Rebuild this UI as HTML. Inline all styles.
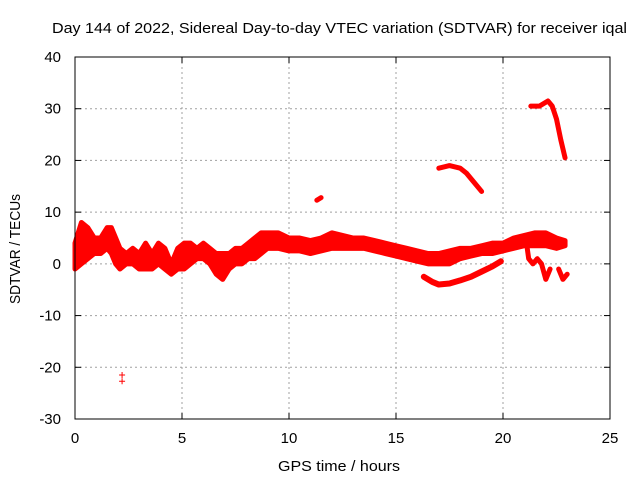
<!DOCTYPE html>
<html><head><meta charset="utf-8"><style>
body{margin:0;background:#fff;}
svg{display:block;font-family:"Liberation Sans",sans-serif;}
</style></head><body>
<svg id="chart" width="640" height="480" xmlns="http://www.w3.org/2000/svg">
<rect width="640" height="480" fill="#fff"/>
<text x="52" y="33" font-size="15" textLength="575" lengthAdjust="spacingAndGlyphs">Day 144 of 2022, Sidereal Day-to-day VTEC variation (SDTVAR) for receiver iqal</text>
<text x="278" y="471" font-size="15" textLength="122" lengthAdjust="spacingAndGlyphs">GPS time / hours</text>
<text transform="translate(20,304) rotate(-90)" font-size="15" textLength="110" lengthAdjust="spacingAndGlyphs">SDTVAR / TECUs</text>
<g id="grid"></g><g id="ticks"></g><g id="marks"></g>
<rect x="75" y="57" width="535" height="362" fill="none" stroke="#000" stroke-width="1"/>
</svg>
<script>
const xTicks=[0,5,10,15,20,25];
const yTicks=[-30,-20,-10,0,10,20,30,40];
const mainHours=[0,0.3,0.6,0.9,1.2,1.5,1.7,1.9,2.1,2.4,2.7,3.0,3.3,3.6,3.9,4.2,4.5,4.8,5.1,5.4,5.7,6.0,6.3,6.6,6.9,7.2,7.5,7.8,8.1,8.4,8.7,9.0,9.5,10,10.5,11,11.5,12,12.5,13,13.5,14,14.5,15,15.5,16,16.5,17,17.5,18,18.5,19,19.5,20,20.5,21,21.5,22,22.5,22.9];
const mainUpper=[4,8,7,5,5,7,7,5,3,2,3,2,4,2,4,3,0,3,4,4,3,4,3,2,2,2,3,3,4,5,6,6,6,5,5,4.5,5,6,5.5,5,5,4.5,4,3.5,3,2.5,2,2,2.5,3,3,3.5,4,4,5,5.5,6,6,5,4.5];
const mainLower=[-1,0,1,2,2,3,2,0,-1,0,0,-1,-1,-1,0,-1,-2,-1,-1,0,1,1,0,-2,-3,-1,0,0,1,1,2,3,3,2.5,2.5,2,2.5,3,3,3,3,2.5,2,1.5,1,0.5,0,0,0,1,1.5,2,2,2.5,3,3.5,3.5,3.5,3,3.5];
const lowArcHours=[16.3,16.7,17,17.5,18,18.5,19,19.5,19.9];
const lowArcVals=[-2.5,-3.5,-4,-3.8,-3.2,-2.5,-1.5,-0.5,0.5];
const arc18Hours=[17.0,17.5,18,18.3,18.6,19.0];
const arc18Vals=[18.5,19,18.5,17.5,16,14];
const arc30Hours=[21.3,21.7,22.1,22.3,22.5,22.7,22.9];
const arc30Vals=[30.5,30.5,31.5,30.5,28,24,20.5];
const dropAHours=[21.1,21.2,21.4,21.6,21.8,22.0,22.2];
const dropAVals=[4,1,0,1,0,-3,-1];
const dropBHours=[22.6,22.8,23.0];
const dropBVals=[-1,-3,-2];
const shortHours=[11.3,11.5];
const shortVals=[12.3,12.8];
const outlierHours=[2.2,2.2];
const outlierVals=[-21.5,-22.7];
const NS='http://www.w3.org/2000/svg';
function xs(h){return 75+h*(535/25);}
function ys(v){return 57+(40-v)*(362/70);}
function mk(tag,attrs,parent){const e=document.createElementNS(NS,tag);for(const k in attrs)e.setAttribute(k,attrs[k]);parent.appendChild(e);return e;}
const grid=document.getElementById('grid'),ticks=document.getElementById('ticks'),marks=document.getElementById('marks');
xTicks.forEach(t=>{
 if(t>0&&t<25){const l=mk('line',{x1:xs(t),x2:xs(t),y1:57,y2:419,stroke:'#a0a0a0','stroke-dasharray':'2,3'},grid);
 
 }
 mk('line',{x1:xs(t),x2:xs(t),y1:419,y2:413,stroke:'#000'},ticks);
 mk('line',{x1:xs(t),x2:xs(t),y1:57,y2:63,stroke:'#000'},ticks);
 const tx=mk('text',{x:xs(t),y:443,'font-size':15,'text-anchor':'middle'},ticks);tx.textContent=t;
 
 
});
yTicks.forEach(t=>{
 if(t>-30&&t<40){const l=mk('line',{x1:75,x2:610,y1:ys(t),y2:ys(t),stroke:'#a0a0a0','stroke-dasharray':'2,3'},grid);
 
 }
 mk('line',{x1:75,x2:81,y1:ys(t),y2:ys(t),stroke:'#000'},ticks);
 mk('line',{x1:610,x2:604,y1:ys(t),y2:ys(t),stroke:'#000'},ticks);
 const tx=mk('text',{x:61,y:ys(t)+5,'font-size':15,'text-anchor':'end'},ticks);tx.textContent=t;
 
 
});
let pts=mainHours.map((h,i)=>xs(h)+','+ys(mainUpper[i]));
for(let i=mainHours.length-1;i>=0;i--)pts.push(xs(mainHours[i])+','+ys(mainLower[i]));
const band=mk('polygon',{points:pts.join(' '),fill:'#ff0000',stroke:'#ff0000','stroke-width':5,'stroke-linejoin':'round'},marks);


function line(hs,vs,name,w){
 const p=mk('polyline',{points:hs.map((h,i)=>xs(h)+','+ys(vs[i])).join(' '),fill:'none',stroke:'#ff0000','stroke-width':w,'stroke-linecap':'round','stroke-linejoin':'round'},marks);
 
 
}
line(lowArcHours,lowArcVals,'lower-arc-series',6);
line(arc18Hours,arc18Vals,'arc-18-series',5);
line(arc30Hours,arc30Vals,'arc-30-series',5);
line(dropAHours,dropAVals,'drop-a-series',5);
line(dropBHours,dropBVals,'drop-b-series',5);
line(shortHours,shortVals,'short-segment-series',5);
outlierHours.forEach((h,i)=>{
 const g=mk('path',{d:`M${xs(h)-3},${ys(outlierVals[i])}h6M${xs(h)},${ys(outlierVals[i])-3}v6`,stroke:'#ff0000','stroke-width':1},marks);
 
 
});
</script>
</body></html>
